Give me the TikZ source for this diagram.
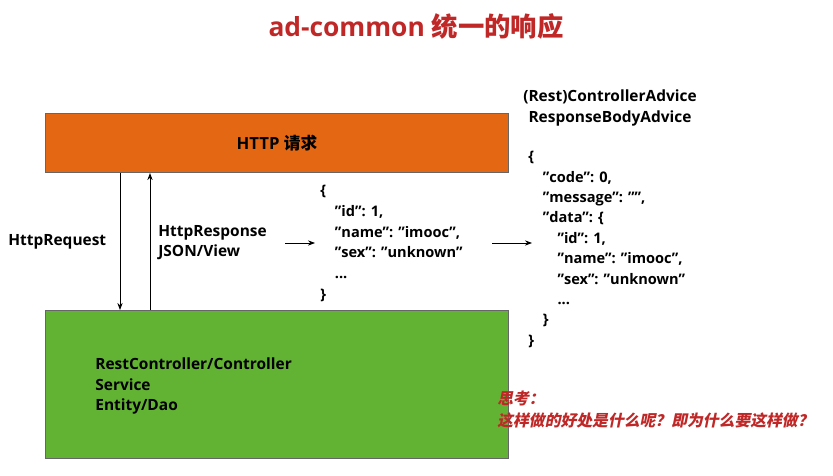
\documentclass[tikz,border=0pt]{standalone}
\usepackage{fontspec}
\setmainfont{Open Sans}
\newfontfamily\cjk{Noto Sans CJK SC}
\newfontfamily\cjkslant[FakeSlant=0.2]{Noto Sans CJK SC}
\usetikzlibrary{positioning,arrows.meta}
\definecolor{titlered}{RGB}{192,40,40}
\definecolor{httporange}{RGB}{228,104,20}
\definecolor{layergreen}{RGB}{98,178,52}
\newcommand{\qt}{\symbol{34}}
\begin{document}
\begin{tikzpicture}[x=0.02cm,y=-0.02cm]
  \tikzset{box/.style = {draw=black!60,line width=0.6pt,anchor=north west,inner sep=0pt}}
  \tikzset{txt/.style = {font=\bfseries\fontsize{8.8}{11.5}\selectfont,align=left,inner sep=0pt}}
  \tikzset{flow/.style = {-{Stealth[length=4pt]},line width=0.5pt}}
  \useasboundingbox (0,0) rectangle (833,476);

  \node[font=\bfseries\fontsize{15}{18}\selectfont,text=titlered] (title) at (416,26) {ad-common {\cjk\bfseries 统一的响应}};

  \node[box,fill=httporange,minimum width=463*0.02cm,minimum height=59*0.02cm] (http) at (45,113) {};
  \node[txt,font=\bfseries\fontsize{9.5}{12}\selectfont] at (http.center) {HTTP {\cjk\bfseries 请求}};
  \node[box,fill=layergreen,minimum width=463*0.02cm,minimum height=148*0.02cm] (layer) at (45,310) {};
  \node[txt,anchor=west] (stack) at (95,386) {RestController/Controller\\Service\\Entity/Dao};

  \draw[flow] (http.south -| 120,0) -- (layer.north -| 120,0);
  \draw[flow] (layer.north -| 150,0) -- (http.south -| 150,0);

  \node[txt,anchor=west] (req) at (8,242) {HttpRequest};
  \node[txt,anchor=west] (resp) at (158,243) {HttpResponse\\JSON/View};

  \node[txt,anchor=north west,font=\bfseries\fontsize{8.3}{11.8}\selectfont] (json1) at (320,185)
    {\{\\\quad\qt id\qt: 1,\\\quad\qt name\qt: \qt imooc\qt,\\\quad\qt sex\qt: \qt unknown\qt\\\quad...\\\}};
  \node[txt,align=center] (advice) at (610,108) {(Rest)ControllerAdvice\\ResponseBodyAdvice};
  \node[txt,anchor=north west,font=\bfseries\fontsize{8.3}{11.6}\selectfont] (json2) at (528,151)
    {\{\\\quad\qt code\qt: 0,\\\quad\qt message\qt: \qt\qt,\\\quad\qt data\qt: \{\\\qquad\qt id\qt: 1,\\\qquad\qt name\qt: \qt imooc\qt,\\\qquad\qt sex\qt: \qt unknown\qt\\\qquad...\\\quad\}\\\}};

  \coordinate (a1) at (285,243);
  \coordinate (b1) at (315,243);
  \coordinate (a2) at (492,243);
  \coordinate (b2) at (532,243);
  \draw[flow] (a1) -- (b1);
  \draw[flow] (a2) -- (b2);

  \node[txt,anchor=west,text=titlered,font=\cjkslant\bfseries\fontsize{9}{12.5}\selectfont] (think) at (497,410)
    {思考：\\这样做的好处是什么呢？即为什么要这样做？};
\end{tikzpicture}
\end{document}
